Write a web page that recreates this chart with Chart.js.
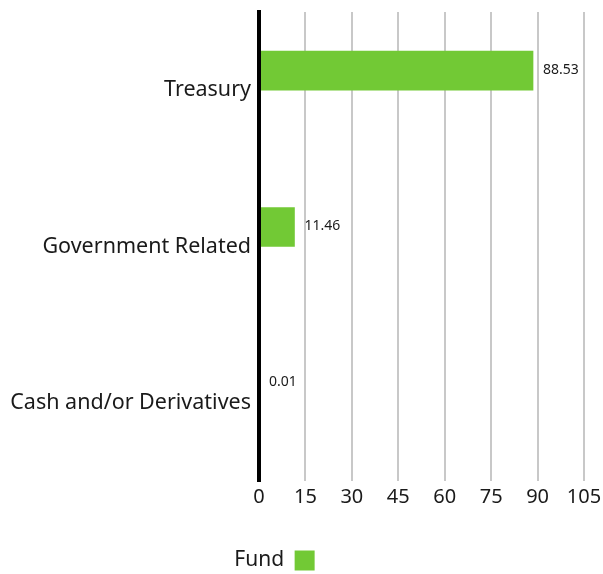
<!DOCTYPE html>
<html>
<head>
<meta charset="utf-8">
<script src="https://cdn.jsdelivr.net/npm/chart.js@4.4.1/dist/chart.umd.min.js"></script>
<style>
  html, body { margin: 0; padding: 0; background: #fff; }
  #wrap { width: 603px; height: 574px; }
</style>
</head>
<body>
<div id="wrap"><canvas id="chart"></canvas></div>
<script>
const categories = ['Treasury', 'Government Related', 'Cash and/or Derivatives'];
const fundValues = [88.53, 11.46, 0.01];
const benchmarkValues = [null, null, null]; // no benchmark shown, still takes its slot
const xTicks = [0, 15, 30, 45, 60, 75, 90, 105];

const green = '#72c935';
const textColor = '#1a1a1a';
const fontFamily = '"Noto Sans", "Open Sans", sans-serif';

// draws the value next to the end of each fund bar
const barLabels = {
  id: 'barLabels',
  afterDatasetsDraw(chart) {
    const ctx = chart.ctx;
    const meta = chart.getDatasetMeta(0);
    ctx.save();
    ctx.font = '14px ' + fontFamily;
    ctx.fillStyle = textColor;
    ctx.textAlign = 'left';
    ctx.textBaseline = 'middle';
    meta.data.forEach((bar, i) => {
      ctx.fillText(fundValues[i].toFixed(2), bar.x + 10, bar.y - 1);
    });
    ctx.restore();
  }
};

// legend sits a bit left of centre and lower in the original
const legendShift = {
  id: 'legendShift',
  afterLayout(chart) {
    const lg = chart.legend;
    lg.left -= 27;
    lg.right -= 27;
    lg.top += 7;
    lg.bottom += 7;
  }
};

const ctx = document.getElementById('chart');
const myChart = new Chart(ctx, {
  type: 'bar',
  data: {
    labels: categories,
    datasets: [{
      label: 'Fund',
      data: fundValues,
      backgroundColor: green,
      borderWidth: 0,
      barThickness: 39
    },
    {
      label: 'Benchmark',
      data: benchmarkValues,
      backgroundColor: '#999999',
      borderWidth: 0,
      barThickness: 39
    }]
  },
  options: {
    indexAxis: 'y',
    responsive: true,
    maintainAspectRatio: false,
    animation: false,
    layout: {
      padding: { top: 12, right: 0, bottom: 0, left: 0 }
    },
    scales: {
      x: {
        min: 0,
        max: 105,
        afterBuildTicks: (scale) => {
          scale.ticks = xTicks.map(v => ({ value: v }));
        },
        afterFit: (scale) => {
          scale.paddingRight = 19;
          scale.paddingLeft = 0;
        },
        ticks: {
          color: textColor,
          font: { family: fontFamily, size: 20 },
          padding: 4
        },
        grid: {
          color: '#c8c8c8',
          lineWidth: 2,
          drawTicks: false
        },
        border: { display: false }
      },
      y: {
        afterFit: (scale) => {
          scale.width = 259;
          scale.paddingTop = 0;
          scale.paddingBottom = 0;
        },
        ticks: {
          color: textColor,
          font: { family: fontFamily, size: 21.5 },
          padding: 8
        },
        grid: { display: false, drawTicks: false },
        border: { color: '#000000', width: 4, z: 1 }
      }
    },
    plugins: {
      legend: {
        display: true,
        position: 'bottom',
        rtl: true,
        labels: {
          color: textColor,
          font: { family: fontFamily, size: 21 },
          boxWidth: 20,
          boxHeight: 20,
          padding: 30,
          filter: (item) => item.text === 'Fund'
        }
      },
      tooltip: { enabled: false }
    }
  },
  plugins: [barLabels, legendShift]
});
</script>
</body>
</html>
